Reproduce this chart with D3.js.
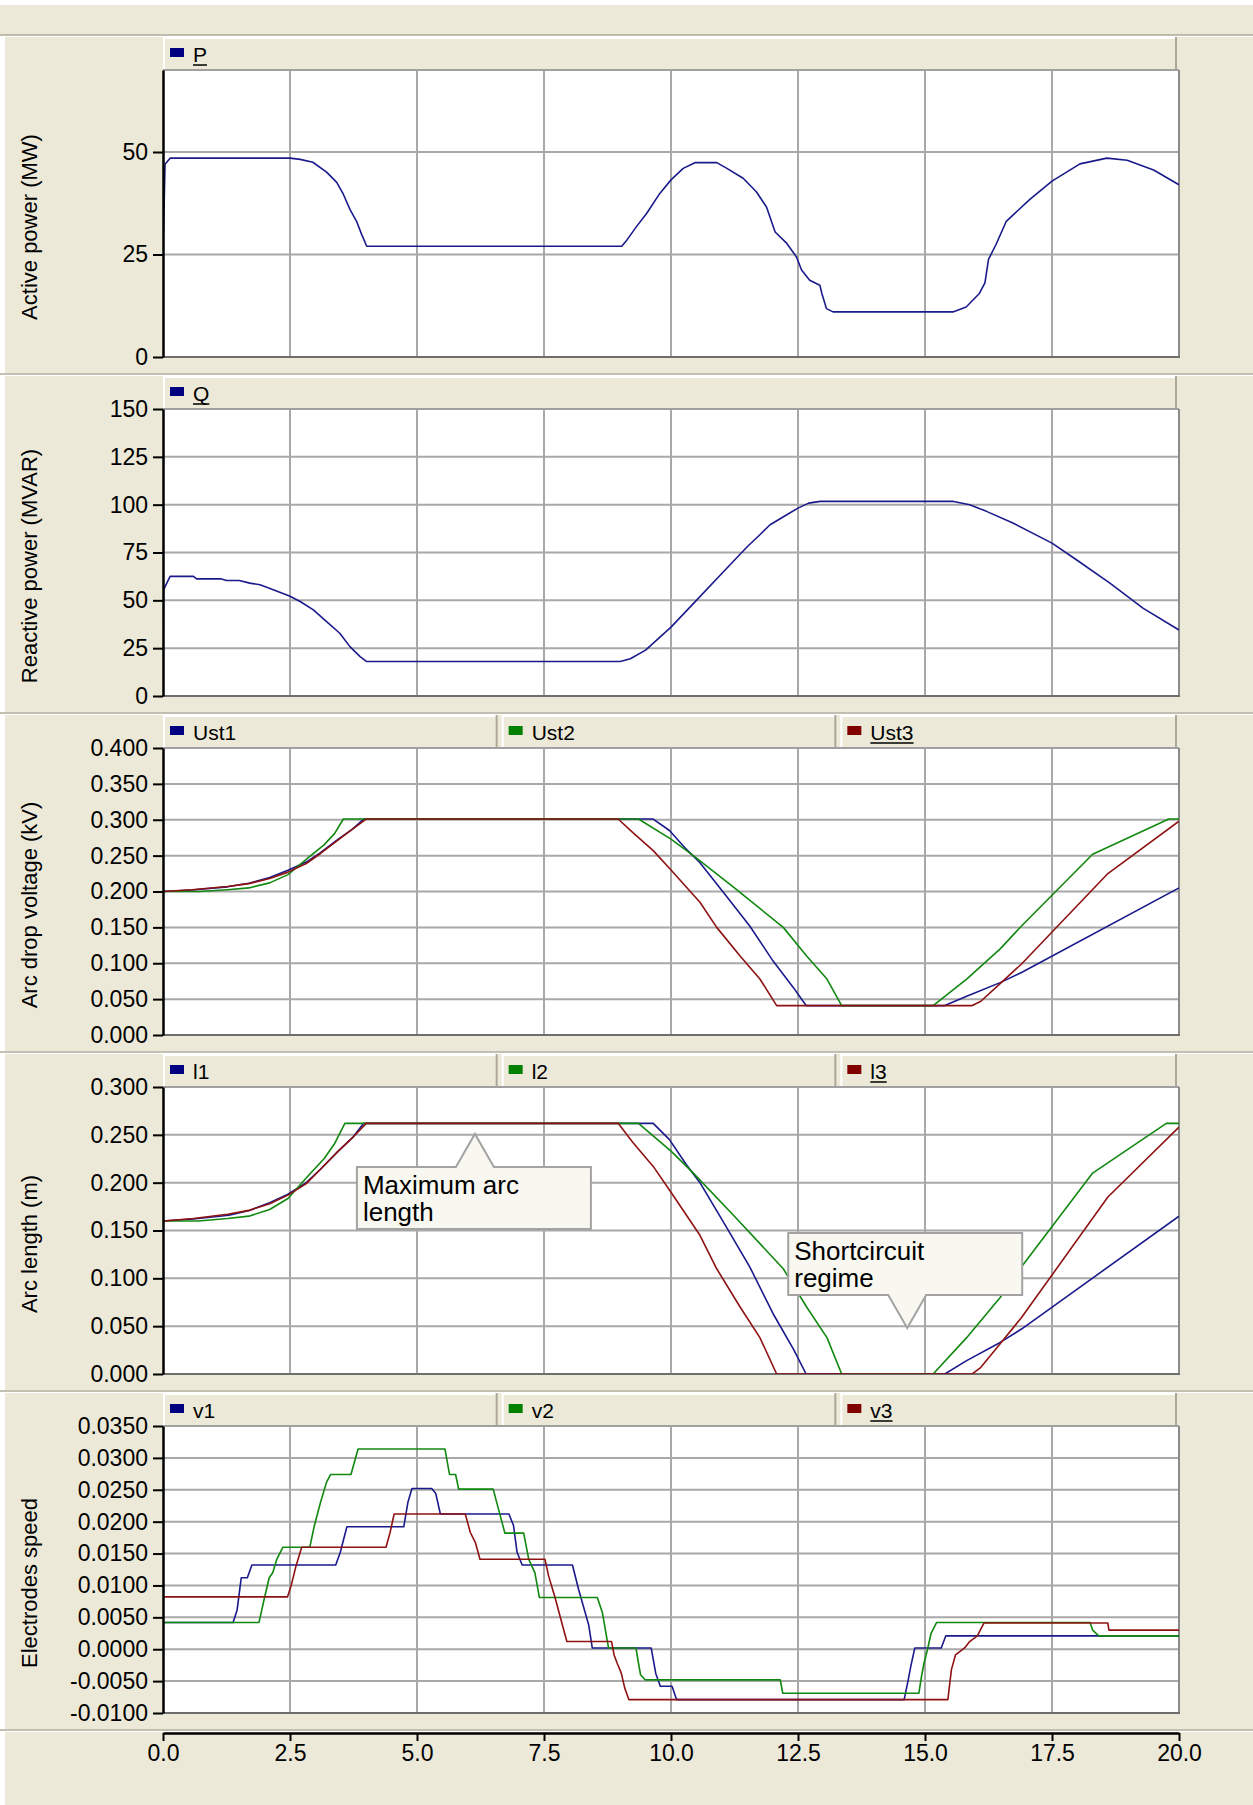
<!DOCTYPE html>
<html>
<head>
<meta charset="utf-8">
<script src="https://cdn.jsdelivr.net/npm/d3@7"></script>
<style>
  body { margin: 0; background: #fff; }
  svg { display: block; }
</style>
</head>
<body>
<svg id="chart" width="1253" height="1805"></svg>
<script>
// time axis
const xTicks = [0, 2.5, 5, 7.5, 10, 12.5, 15, 17.5, 20];

// tick labels per panel
const pTicks = [0, 25, 50];
const qTicks = [0, 25, 50, 75, 100, 125, 150];
const ustTicks = [0, 0.05, 0.1, 0.15, 0.2, 0.25, 0.3, 0.35, 0.4];
const lTicks = [0, 0.05, 0.1, 0.15, 0.2, 0.25, 0.3];
const vTicks = [-0.01, -0.005, 0, 0.005, 0.01, 0.015, 0.02, 0.025, 0.03, 0.035];

const yTitles = [
  "Active power (MW)",
  "Reactive power (MVAR)",
  "Arc drop voltage (kV)",
  "Arc length (m)",
  "Electrodes speed",
];
const legendNames = [["P"], ["Q"], ["Ust1", "Ust2", "Ust3"], ["l1", "l2", "l3"], ["v1", "v2", "v3"]];

// series: [time s, value]
const pData = [[0,25],[0.04,47],[0.14,48.5],[2.5,48.5],[2.7,48.2],[2.95,47.5],[3.22,45.1],[3.42,42.6],[3.55,39.7],[3.68,36.0],[3.81,33.1],[3.91,29.9],[4.01,27.0],[9.03,27.0],[9.13,28.5],[9.32,31.8],[9.52,35.0],[9.78,39.9],[10.0,43.2],[10.24,46.0],[10.47,47.4],[10.9,47.4],[11.1,46.0],[11.42,43.6],[11.68,40.3],[11.88,36.6],[12.05,30.5],[12.28,27.7],[12.47,24.4],[12.57,21.2],[12.73,18.7],[12.93,17.5],[12.97,15.5],[13.06,11.8],[13.19,11.0],[15.55,11.0],[15.81,12.2],[16.07,15.5],[16.18,18.1],[16.25,23.8],[16.4,27.5],[16.6,33.1],[17.07,38.5],[17.5,42.9],[18.05,47.1],[18.58,48.5],[18.98,48.0],[19.5,45.6],[20,42.0]];

const qData = [[0,20],[0.01,55.5],[0.14,62.5],[0.6,62.5],[0.66,61.2],[1.15,61.2],[1.25,60.4],[1.5,60.4],[1.71,59.0],[1.91,58.1],[2.17,55.5],[2.49,52.3],[2.7,49.4],[2.96,45.0],[3.22,38.9],[3.48,32.8],[3.68,25.8],[3.88,20.6],[4.01,18.0],[9.0,18.0],[9.2,19.5],[9.5,24],[10,36],[10.5,50],[11,64],[11.5,78],[11.75,84.3],[11.95,89.5],[12.28,94.7],[12.5,98.2],[12.71,100.8],[12.94,101.7],[15.56,101.7],[15.88,100.0],[16.21,96.5],[16.73,90.4],[17.5,79.9],[17.98,71.2],[18.64,59.0],[19.29,45.9],[20,34.5]];

const ust1Data = [[0,0.200],[0.57,0.202],[1.27,0.2065],[1.69,0.2115],[2.1,0.2195],[2.46,0.2295],[2.82,0.241],[3.1,0.254],[3.45,0.273],[3.73,0.287],[3.95,0.301],[9.65,0.301],[9.97,0.285],[10.3,0.259],[10.57,0.240],[11.03,0.199],[11.55,0.152],[12.01,0.103],[12.41,0.066],[12.66,0.041],[15.39,0.041],[15.82,0.054],[16.48,0.073],[16.9,0.087],[20,0.205]];
const ust2Data = [[0,0.200],[0.71,0.200],[1.27,0.2025],[1.69,0.205],[2.1,0.212],[2.46,0.2235],[2.89,0.249],[3.17,0.265],[3.38,0.281],[3.55,0.301],[9.36,0.301],[10.0,0.273],[10.44,0.250],[11.23,0.206],[12.21,0.150],[12.67,0.110],[13.07,0.078],[13.36,0.041],[15.16,0.041],[15.82,0.078],[16.48,0.120],[16.9,0.152],[18.3,0.252],[19.8,0.301],[20,0.301]];
const ust3Data = [[0,0.200],[0.57,0.2025],[1.27,0.207],[1.69,0.211],[2.1,0.218],[2.46,0.227],[2.82,0.239],[3.1,0.253],[3.45,0.272],[3.73,0.287],[4.0,0.301],[8.96,0.301],[9.25,0.282],[9.65,0.257],[10.0,0.230],[10.57,0.185],[10.9,0.150],[11.36,0.110],[11.75,0.078],[12.08,0.041],[15.93,0.041],[16.1,0.047],[16.5,0.073],[16.9,0.099],[18.6,0.225],[20,0.298]];

const l1Data = [[0,0.160],[0.6,0.162],[1.3,0.166],[1.7,0.171],[2.1,0.179],[2.46,0.188],[2.82,0.200],[3.1,0.214],[3.45,0.233],[3.73,0.247],[3.95,0.262],[9.65,0.262],[9.97,0.245],[10.3,0.219],[10.57,0.200],[11.03,0.159],[11.55,0.112],[12.01,0.063],[12.41,0.026],[12.66,0.0],[15.39,0.0],[15.82,0.014],[16.48,0.033],[16.9,0.047],[20,0.165]];
const l2Data = [[0,0.160],[0.7,0.160],[1.27,0.1625],[1.69,0.165],[2.1,0.172],[2.46,0.1835],[2.89,0.209],[3.17,0.225],[3.38,0.241],[3.58,0.262],[9.36,0.262],[10.0,0.233],[10.44,0.210],[11.23,0.166],[12.21,0.110],[12.67,0.070],[13.07,0.038],[13.36,0.0],[15.16,0.0],[15.82,0.038],[16.48,0.080],[16.9,0.112],[18.3,0.210],[19.75,0.262],[20,0.262]];
const l3Data = [[0,0.160],[0.6,0.1625],[1.27,0.167],[1.69,0.171],[2.1,0.178],[2.46,0.187],[2.82,0.199],[3.1,0.214],[3.45,0.233],[3.73,0.247],[4.0,0.262],[8.96,0.262],[9.25,0.242],[9.65,0.217],[10.0,0.190],[10.57,0.145],[10.9,0.110],[11.36,0.070],[11.75,0.038],[12.08,0.0],[15.93,0.0],[16.1,0.007],[16.5,0.033],[16.9,0.059],[18.6,0.185],[20,0.258]];

const v1Data = [[0,0.0042],[1.38,0.0042],[1.46,0.0062],[1.54,0.0112],[1.66,0.0112],[1.75,0.0132],[3.4,0.0132],[3.49,0.0152],[3.62,0.0192],[4.74,0.0192],[4.82,0.023],[4.9,0.0252],[5.29,0.0252],[5.37,0.0244],[5.46,0.0212],[6.81,0.0212],[6.9,0.0194],[6.97,0.0152],[7.07,0.0132],[8.06,0.0132],[8.18,0.0094],[8.38,0.0038],[8.45,0.0002],[9.61,0.0002],[9.7,-0.0038],[9.79,-0.0058],[10.02,-0.0058],[10.11,-0.0079],[14.59,-0.0079],[14.67,-0.0048],[14.72,-0.0027],[14.8,0.0002],[15.32,0.0002],[15.41,0.0021],[20,0.0021]];
const v2Data = [[0,0.0042],[1.89,0.0042],[1.99,0.0078],[2.09,0.0112],[2.16,0.012],[2.24,0.0141],[2.36,0.016],[2.89,0.016],[2.98,0.0194],[3.1,0.023],[3.22,0.0262],[3.3,0.0274],[3.7,0.0274],[3.84,0.0314],[5.55,0.0314],[5.64,0.0274],[5.76,0.0274],[5.82,0.0251],[6.5,0.0251],[6.62,0.0215],[6.73,0.0182],[7.1,0.0182],[7.2,0.0141],[7.32,0.012],[7.41,0.0081],[8.55,0.0081],[8.65,0.0057],[8.77,0.0002],[9.31,0.0002],[9.36,-0.0022],[9.4,-0.004],[9.49,-0.0048],[12.15,-0.0048],[12.2,-0.0069],[14.88,-0.0069],[14.93,-0.0043],[14.98,-0.0022],[15.05,0.0],[15.12,0.0025],[15.23,0.0042],[18.25,0.0042],[18.3,0.003],[18.42,0.0021],[20,0.0021]];
const v3Data = [[0,0.0082],[2.45,0.0082],[2.52,0.0099],[2.62,0.0131],[2.73,0.016],[4.39,0.016],[4.47,0.0183],[4.55,0.0212],[5.95,0.0212],[6.05,0.0183],[6.15,0.0167],[6.24,0.0141],[7.52,0.0141],[7.59,0.0115],[7.71,0.0083],[7.95,0.0012],[8.83,0.0012],[8.88,-0.0009],[8.94,-0.0022],[9.02,-0.0037],[9.09,-0.0061],[9.17,-0.0079],[15.45,-0.0079],[15.52,-0.0032],[15.6,-0.0009],[15.78,0.0002],[15.88,0.0012],[16.03,0.0021],[16.16,0.0041],[18.6,0.0041],[18.62,0.003],[20,0.003]];

// callouts on the arc length panel
const noteLines = [["Maximum arc", "length"], ["Shortcircuit", "regime"]];
const notePoints = [[6.14, 0.251], [14.65, 0.048]];

const W = 1253, H = 1805;
const left = 163, right = 1179;
const plotTop = 70, plotH = 287, step = 339;
const font = "'Liberation Sans', Arial, sans-serif";
const beige = "#ece9d8", edge = "#aca899", gridCol = "#a8a8a8";
const lineColors = ["#1a1a8c", "#11880f", "#8e1212"];
const swatchColors = ["#000080", "#008000", "#800000"];

const loc = d3.formatLocale({ decimal: ".", thousands: ",", grouping: [3], currency: ["", ""], minus: "-" });

const panels = [
  { title: yTitles[0], domain: [0, 70], ticks: pTicks, fmt: loc.format("d"), names: legendNames[0], series: [pData] },
  { title: yTitles[1], domain: [0, 150], ticks: qTicks, fmt: loc.format("d"), names: legendNames[1], series: [qData] },
  { title: yTitles[2], domain: [0, 0.4], ticks: ustTicks, fmt: loc.format(".3f"), names: legendNames[2], series: [ust1Data, ust2Data, ust3Data] },
  { title: yTitles[3], domain: [0, 0.3], ticks: lTicks, fmt: loc.format(".3f"), names: legendNames[3], series: [l1Data, l2Data, l3Data] },
  { title: yTitles[4], domain: [-0.01, 0.035], ticks: vTicks, fmt: loc.format(".4f"), names: legendNames[4], series: [v1Data, v2Data, v3Data] },
];

const svg = d3.select("#chart");
const x = d3.scaleLinear().domain([0, 20]).range([left, right]);

svg.append("rect").attr("x", 0).attr("y", 5).attr("width", W).attr("height", 30).attr("fill", beige);

function separator(yy) {
  svg.append("line").attr("x1", 0).attr("x2", W).attr("y1", yy).attr("y2", yy)
    .attr("stroke", edge).attr("stroke-width", 1.5);
  svg.append("line").attr("x1", 0).attr("x2", W).attr("y1", yy + 1.5).attr("y2", yy + 1.5)
    .attr("stroke", "#fff").attr("stroke-width", 1);
}

panels.forEach((p, k) => {
  const off = k * step;
  const top = plotTop + off;
  const bottom = top + plotH;
  const y = d3.scaleLinear().domain(p.domain).range([bottom, top]);

  separator(35 + off);
  const g = svg.append("g");
  g.append("rect").attr("x", 5).attr("y", 37 + off).attr("width", W - 5).attr("height", 336).attr("fill", beige);

  // legend strip
  const n = p.names.length;
  const bw = (right - left) / n;
  p.names.forEach((name, i) => {
    const bx = left + i * bw;
    const w = i === n - 1 ? right - 2 - bx : bw - 4;
    const lg = g.append("g");
    lg.append("rect").attr("x", bx).attr("y", 37 + off).attr("width", w).attr("height", 32).attr("fill", beige);
    lg.append("line").attr("x1", bx).attr("x2", bx + w).attr("y1", 38 + off).attr("y2", 38 + off).attr("stroke", "#fff").attr("stroke-width", 2);
    lg.append("line").attr("x1", bx + 1).attr("x2", bx + 1).attr("y1", 37 + off).attr("y2", 69 + off).attr("stroke", "#fff").attr("stroke-width", 2);
    lg.append("line").attr("x1", bx + w - 1).attr("x2", bx + w - 1).attr("y1", 37 + off).attr("y2", 69 + off).attr("stroke", edge).attr("stroke-width", 2);
    lg.append("rect").attr("x", bx + 7).attr("y", 48 + off).attr("width", 14).attr("height", 9).attr("fill", swatchColors[i]);
    const t = lg.append("text").attr("x", bx + 30).attr("y", 62 + off)
      .attr("font-family", font).attr("font-size", 21).attr("fill", "#000").text(name);
    if (i === n - 1) {
      const tw = t.node().getComputedTextLength();
      lg.append("line").attr("x1", bx + 30).attr("x2", bx + 30 + tw).attr("y1", 65 + off).attr("y2", 65 + off)
        .attr("stroke", "#000").attr("stroke-width", 1.5);
    }
  });

  // plot area
  g.append("rect").attr("x", left).attr("y", top).attr("width", right - left).attr("height", plotH).attr("fill", "#fff");
  g.append("clipPath").attr("id", "clip" + k).append("rect")
    .attr("x", left).attr("y", top).attr("width", right - left).attr("height", plotH);

  g.selectAll(null).data(p.ticks.filter(v => v !== p.domain[0])).join("line")
    .attr("x1", left).attr("x2", right).attr("y1", d => y(d)).attr("y2", d => y(d))
    .attr("stroke", gridCol).attr("stroke-width", 2);
  g.selectAll(null).data(xTicks.filter(v => v > 0 && v < 20)).join("line")
    .attr("x1", d => x(d)).attr("x2", d => x(d)).attr("y1", top).attr("y2", bottom)
    .attr("stroke", gridCol).attr("stroke-width", 2);

  g.append("line").attr("x1", left).attr("x2", right).attr("y1", top).attr("y2", top).attr("stroke", "#a0a0a0").attr("stroke-width", 2);
  g.append("line").attr("x1", right).attr("x2", right).attr("y1", top).attr("y2", bottom + 1).attr("stroke", "#8a8a8a").attr("stroke-width", 2);
  g.append("line").attr("x1", left).attr("x2", right + 1).attr("y1", bottom).attr("y2", bottom).attr("stroke", "#6e6e6e").attr("stroke-width", 2);

  const line = d3.line().x(d => x(d[0])).y(d => y(d[1]));
  p.series.forEach((s, i) => {
    g.append("path").attr("d", line(s)).attr("fill", "none")
      .attr("stroke", lineColors[i]).attr("stroke-width", 1.6)
      .attr("stroke-linejoin", "round").attr("clip-path", `url(#clip${k})`);
  });

  const ax = g.append("g").attr("transform", `translate(${left},0)`)
    .call(d3.axisLeft(y).tickValues(p.ticks).tickFormat(p.fmt).tickSize(10).tickPadding(5).tickSizeOuter(0));
  ax.attr("font-family", font).attr("font-size", 23);
  ax.select(".domain").attr("stroke", "#000").attr("stroke-width", 2.5);
  ax.selectAll(".tick line").attr("stroke", "#000").attr("stroke-width", 2);
  ax.selectAll(".tick text").attr("fill", "#000");

  g.append("text").attr("transform", `translate(37,${top + 157}) rotate(-90)`)
    .attr("text-anchor", "middle").attr("font-family", font).attr("font-size", 22)
    .attr("fill", "#000").text(p.title);

  if (k === 3) {
    noteLines.forEach((lines, j) => {
      const axp = x(notePoints[j][0]);
      const ayp = y(notePoints[j][1]);
      const bw2 = 234, bh = 62, half = 19, tip = 33;
      let L, T, d;
      if (j === 0) {
        L = axp - 118; T = ayp + tip;
        d = `M${L},${T}H${axp - half}L${axp},${ayp}L${axp + half},${T}H${L + bw2}V${T + bh}H${L}Z`;
      } else {
        L = axp - 119; T = ayp - tip - bh;
        const B = T + bh;
        d = `M${L},${T}H${L + bw2}V${B}H${axp + half}L${axp},${ayp}L${axp - half},${B}H${L}Z`;
      }
      g.append("path").attr("d", d).attr("fill", "#f8f8f0").attr("stroke", "#a3a3a3").attr("stroke-width", 2);
      lines.forEach((txt, r) => {
        g.append("text").attr("x", L + 6).attr("y", T + 27 + r * 27)
          .attr("font-family", font).attr("font-size", 26).attr("fill", "#000").text(txt);
      });
    });
  }
});

// bottom time axis
separator(1730);
svg.append("rect").attr("x", 5).attr("y", 1732).attr("width", W - 5).attr("height", H - 1732).attr("fill", beige);
const xa = svg.append("g").attr("transform", "translate(0,1733)")
  .call(d3.axisBottom(x).tickValues(xTicks).tickFormat(loc.format(".1f")).tickSize(8).tickPadding(4).tickSizeOuter(0));
xa.attr("font-family", font).attr("font-size", 23);
xa.select(".domain").attr("stroke", "#000").attr("stroke-width", 2.5);
xa.selectAll(".tick line").attr("stroke", "#000").attr("stroke-width", 2);
xa.selectAll(".tick text").attr("fill", "#000");
</script>
</body>
</html>
